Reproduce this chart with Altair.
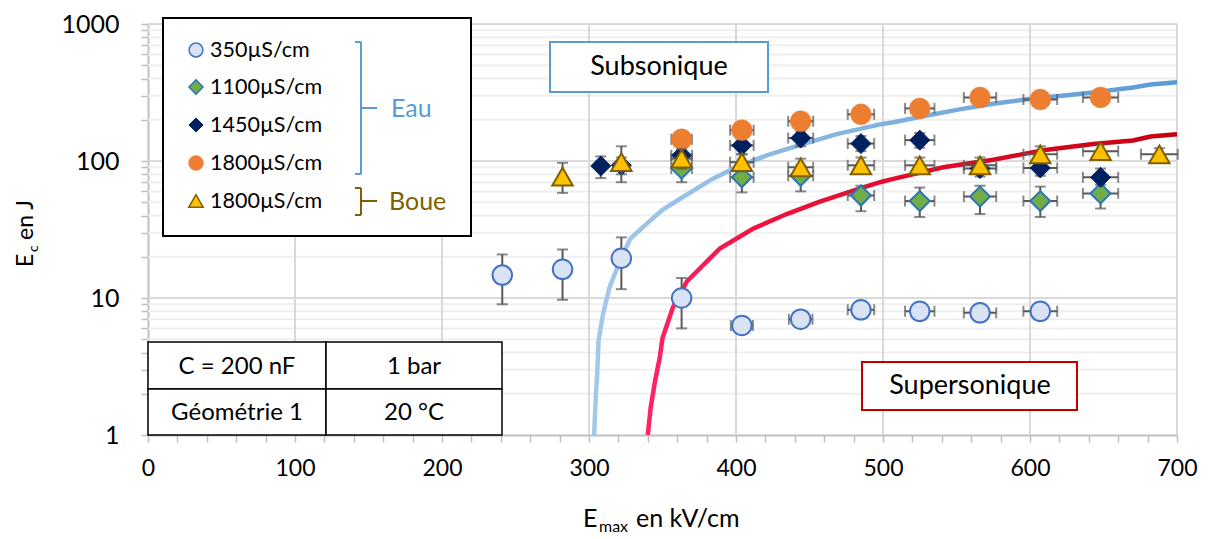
import altair as alt
import pandas as pd

# ---------------- data ----------------
# 350 µS/cm (Eau)
s350_x = [241, 282, 322, 363, 404, 444, 485, 525, 566, 607]
s350_y = [14.7, 16.2, 19.5, 10.0, 6.3, 7.0, 8.2, 8.0, 7.8, 8.0]
s350_ylo = [9.0, 9.7, 11.6, 6.0, 5.9, 6.6, 7.7, 7.5, 7.3, 7.5]
s350_yhi = [20.8, 22.6, 27.7, 14.0, 6.7, 7.4, 8.7, 8.5, 8.3, 8.5]
s350_xerr = [0, 0, 0, 0, 7.5, 8, 9, 10, 11, 11.5]

# 1100 µS/cm (Eau)
s1100_x = [363, 404, 444, 485, 525, 566, 607, 648]
s1100_y = [88, 76, 78, 56, 51, 55, 51, 58]
s1100_ylo = [70, 59, 60, 43, 39, 41, 39, 45]
s1100_yhi = [100, 90, 92, 66, 64, 66, 65, 70]
s1100_xerr = [7, 8, 8.5, 9, 10, 11, 11.5, 12]

# 1450 µS/cm (Eau)
s1450_x = [308, 322, 363, 404, 444, 485, 525, 566, 607, 648]
s1450_y = [92, 93, 110, 130, 147, 134, 142, 88, 89, 76]
s1450_ylo = [75, 80, 95, 112, 128, 118, 125, 77, 78, 67]
s1450_yhi = [108, 106, 126, 148, 166, 152, 160, 100, 101, 88]
s1450_xerr = [0, 0, 7, 8, 8.5, 9, 10, 11, 11.5, 12]

# 1800 µS/cm (Eau)
s1800_x = [363, 404, 444, 485, 525, 566, 607, 648]
s1800_y = [144, 168, 195, 219, 242, 291, 281, 291]
s1800_xerr = [7, 8, 8.5, 9, 10, 11, 11.5, 12]

# 1800 µS/cm (Boue)
boue_x = [282, 322, 363, 404, 444, 485, 525, 566, 607, 648, 688]
boue_y = [77, 98, 104, 98, 90, 93, 93, 93, 112, 118, 112]
boue_ylo = [58.5, 70, 88, 84, 78, 81, 81, 81, 98, 104, 100]
boue_yhi = [97, 128, 122, 112, 104, 106, 106, 106, 128, 132, 124]
boue_xerr = [0, 0, 7, 8, 8.5, 9, 10, 11, 11.5, 12, 12.5]

# Subsonique boundary (blue curve)
sub_x = [303.5, 304.5, 305.5, 306.5, 309.5, 314, 321, 328, 339.5, 350, 362, 384,
         400.5, 423, 445.5, 468.5, 498, 507, 530, 552, 575, 598, 620, 643, 670, 682, 700]
sub_y = [1, 1.8, 2.7, 4.9, 7.6, 12, 18.5, 27, 35, 44, 53, 74,
         90.6, 112, 133, 157, 185, 192, 215, 238, 262, 282, 298, 316, 344, 362, 375]

# Supersonique boundary (red curve)
sup_x = [340, 342, 345, 348, 350, 357, 366.5, 389, 411.5, 434.5, 457, 484, 498,
         507, 541, 575, 609, 643, 670, 682, 700]
sup_y = [1, 1.6, 2.5, 3.6, 5.1, 8.5, 13.2, 23, 32, 41, 50.5, 62.9, 70,
         74, 90, 102, 120, 133, 141, 151, 157]

legend_labels = ["350µS/cm", "1100µS/cm", "1450µS/cm", "1800µS/cm", "1800µS/cm"]
table_cells = ["C = 200 nF", "1 bar", "Géométrie 1", "20 °C"]

x_grid = [100, 200, 300, 400, 500, 600, 700]
y_major = [10, 100, 1000]
y_minor = [2, 3, 4, 5, 6, 7, 8, 9, 20, 30, 40, 50, 60, 70, 80, 90,
           200, 300, 400, 500, 600, 700, 800, 900]
x_ticks = list(range(0, 701, 20))
y_ticks = [1] + y_minor[:8] + [10] + y_minor[8:16] + [100] + y_minor[16:] + [1000]

# ---------------- styling ----------------
FONT = "Lato"
W, H = 1029, 411
DY = -3  # annotation offset (plot top sits 3px lower than the layout grid below)
EB = "#595959"

xs = alt.Scale(domain=[0, 700], nice=False, zero=False)
ys = alt.Scale(type="log", domain=[1, 1000], nice=False)

x_axis = alt.Axis(values=x_ticks, grid=False, title=None,
                  labelExpr="datum.value % 100 === 0 ? format(datum.value, 'd') : ''",
                  domainColor="#BFBFBF", domainWidth=2, tickColor="#BFBFBF", tickWidth=1.5,
                  tickSize=7, labelFont=FONT, labelFontSize=23, labelColor="#000000",
                  labelPadding=15, labelOverlap=False, labelFlush=False)
y_axis = alt.Axis(values=y_ticks, grid=False, title=None,
                  labelExpr="indexof([1,10,100,1000], datum.value) >= 0 ? format(datum.value, 'd') : ''",
                  domainColor="#BFBFBF", domainWidth=2, tickColor="#BFBFBF", tickWidth=1.5,
                  tickSize=7, labelFont=FONT, labelFontSize=25, labelColor="#000000",
                  labelPadding=22, labelOverlap=False, labelFlush=False)


def X(f):
    return alt.X(f, type="quantitative", scale=xs, axis=x_axis)


def Y(f):
    return alt.Y(f, type="quantitative", scale=ys, axis=y_axis)


ONE = alt.Data(values=[{"a": 1}])
layers = []

# grid
layers.append(alt.Chart(pd.DataFrame({"v": y_minor})).mark_rule(color="#EFEFEF", strokeWidth=2)
              .encode(y=Y("v")))
layers.append(alt.Chart(pd.DataFrame({"v": y_major})).mark_rule(color="#D9D9D9", strokeWidth=2)
              .encode(y=Y("v")))
layers.append(alt.Chart(pd.DataFrame({"v": x_grid})).mark_rule(color="#D9D9D9", strokeWidth=2)
              .encode(x=X("v")))

# curves
blue_grad = alt.LinearGradient(gradient="linear", x1=0, x2=1, y1=0, y2=0,
                               stops=[alt.GradientStop(color="#A4C8EA", offset=0),
                                      alt.GradientStop(color="#5B9BD5", offset=1)])
red_grad = alt.LinearGradient(gradient="linear", x1=0, x2=1, y1=0, y2=0,
                              stops=[alt.GradientStop(color="#FF2366", offset=0),
                                     alt.GradientStop(color="#EE1038", offset=0.25),
                                     alt.GradientStop(color="#C80010", offset=1)])
layers.append(alt.Chart(pd.DataFrame({"x": sub_x, "y": sub_y})).mark_line(
    stroke=blue_grad, strokeWidth=4.5, clip=True).encode(x=X("x"), y=Y("y")))
layers.append(alt.Chart(pd.DataFrame({"x": sup_x, "y": sup_y})).mark_line(
    stroke=red_grad, strokeWidth=4.5, clip=True).encode(x=X("x"), y=Y("y")))


def series(xv, yv, ylo, yhi, xerr, shape, size, fill, stroke, sw):
    df = pd.DataFrame({"x": xv, "y": yv})
    out = []
    if ylo is not None:
        df["ylo"] = ylo
        df["yhi"] = yhi
        out.append(alt.Chart(df).mark_rule(color=EB, strokeWidth=2).encode(
            x=X("x"), y=Y("ylo"), y2="yhi"))
        for f in ("ylo", "yhi"):
            out.append(alt.Chart(df).mark_tick(orient="horizontal", size=11, thickness=2, color=EB)
                       .encode(x=X("x"), y=Y(f)))
    dfx = pd.DataFrame({"x": xv, "y": yv, "e": xerr})
    dfx = dfx[dfx.e > 0].copy()
    dfx["xlo"] = dfx.x - dfx.e
    dfx["xhi"] = dfx.x + dfx.e
    out.append(alt.Chart(dfx).mark_rule(color=EB, strokeWidth=2).encode(
        x=X("xlo"), x2="xhi", y=Y("y")))
    for f in ("xlo", "xhi"):
        out.append(alt.Chart(dfx).mark_tick(orient="vertical", size=11, thickness=2, color=EB)
                   .encode(x=X(f), y=Y("y")))
    out.append(alt.Chart(df).mark_point(shape=shape, filled=True, size=size, fill=fill,
                                        stroke=stroke, strokeWidth=sw, opacity=1)
               .encode(x=X("x"), y=Y("y")))
    return out


STY = [
    ("circle", 380, "#DAE3F3", "#4472C4", 2),
    ("diamond", 400, "#70AD47", "#2E75B6", 2),
    ("diamond", 400, "#002060", "#002060", 1),
    ("circle", 440, "#ED7D31", "#ED7D31", 0.5),
    ("triangle-up", 420, "#FFC000", "#7F6000", 2),
]

layers += series(s350_x, s350_y, s350_ylo, s350_yhi, s350_xerr, *STY[0])
layers += series(s1100_x, s1100_y, s1100_ylo, s1100_yhi, s1100_xerr, *STY[1])
layers += series(s1450_x, s1450_y, s1450_ylo, s1450_yhi, s1450_xerr, *STY[2])
layers += series(s1800_x, s1800_y, None, None, s1800_xerr, *STY[3])
layers += series(boue_x, boue_y, boue_ylo, boue_yhi, boue_xerr, *STY[4])


# ---------------- annotations (pixel positions inside plot area) ----------------
def box(x1, y1, x2, y2, stroke, sw):
    return alt.Chart(ONE).mark_rect(fill="white", stroke=stroke, strokeWidth=sw).encode(
        x=alt.value(x1), x2=alt.value(x2), y=alt.value(y1 + DY), y2=alt.value(y2 + DY))


def seg(x1, y1, x2, y2, color, sw=2):
    return alt.Chart(ONE).mark_rule(color=color, strokeWidth=sw).encode(
        x=alt.value(x1), x2=alt.value(x2), y=alt.value(y1 + DY), y2=alt.value(y2 + DY))


def txt(s, x, y, size, color="#000000", align="center", angle=0, baseline="middle"):
    return alt.Chart(ONE).mark_text(text=s, font=FONT, fontSize=size, color=color, align=align,
                                    baseline=baseline, angle=angle).encode(
        x=alt.value(x), y=alt.value(y + DY))


# Subsonique / Supersonique boxes
layers.append(box(402, 21, 620, 71, "#5B9BD5", 2))
layers.append(txt("Subsonique", 511, 46, 27))
layers.append(box(714, 341, 929, 389, "#C00000", 2))
layers.append(txt("Supersonique", 822, 365, 27))

# table (bottom row ends on the x axis)
cells = [(0, 321, 178, 368), (178, 321, 354, 368), (0, 368, 178, 414), (178, 368, 354, 414)]
for (x1, y1, x2, y2), s in zip(cells, table_cells):
    layers.append(box(x1, y1, x2, y2, "#000000", 1.5))
    layers.append(txt(s, (x1 + x2) / 2, (y1 + y2) / 2 + 1, 24))

# legend
layers.append(box(15, -3, 323, 215, "#000000", 2))
leg_y = [29, 66, 104, 142, 180]
for (shape, size, fill, stroke, sw), yy, lab in zip(STY, leg_y, legend_labels):
    layers.append(alt.Chart(ONE).mark_point(shape=shape, filled=True, size=size * 0.5, fill=fill,
                                            stroke=stroke, strokeWidth=min(sw, 1.5), opacity=1)
                  .encode(x=alt.value(48), y=alt.value(yy + DY)))
    layers.append(txt(lab, 62, yy + 1, 21.5, align="left"))

BLUE_T = "#5B9BD5"
BROWN = "#7F6000"
layers += [seg(213, 21, 213, 153, BLUE_T), seg(207, 21, 213, 21, BLUE_T),
           seg(207, 153, 213, 153, BLUE_T), seg(213, 87, 229, 87, BLUE_T)]
layers.append(txt("Eau", 243, 88, 25, color=BLUE_T, align="left"))
layers += [seg(213, 167, 213, 194, BROWN), seg(207, 167, 213, 167, BROWN),
           seg(207, 194, 213, 194, BROWN), seg(213, 180, 229, 180, BROWN)]
layers.append(txt("Boue", 241, 181, 25, color=BROWN, align="left"))

# axis titles with subscripts
layers.append(txt("E", -115, 246, 23, align="left", angle=270, baseline="alphabetic"))
layers.append(txt("c", -110, 231, 14, align="left", angle=270, baseline="alphabetic"))
layers.append(txt("en J", -115, 219, 23, align="left", angle=270, baseline="alphabetic"))

layers.append(txt("E", 435, 506, 25, align="left", baseline="alphabetic"))
layers.append(txt("max", 451, 511, 16, align="left", baseline="alphabetic"))
layers.append(txt("en kV/cm", 488, 506, 25, align="left", baseline="alphabetic"))

chart = alt.layer(*layers).properties(
    width=W, height=H,
    autosize=alt.AutoSizeParams(type="none"),
    padding={"left": 140, "top": 16, "right": 24, "bottom": 100},
    background="white",
).configure_view(stroke=None)

chart.save("out.html", embed_options={"renderer": "svg", "actions": False})
